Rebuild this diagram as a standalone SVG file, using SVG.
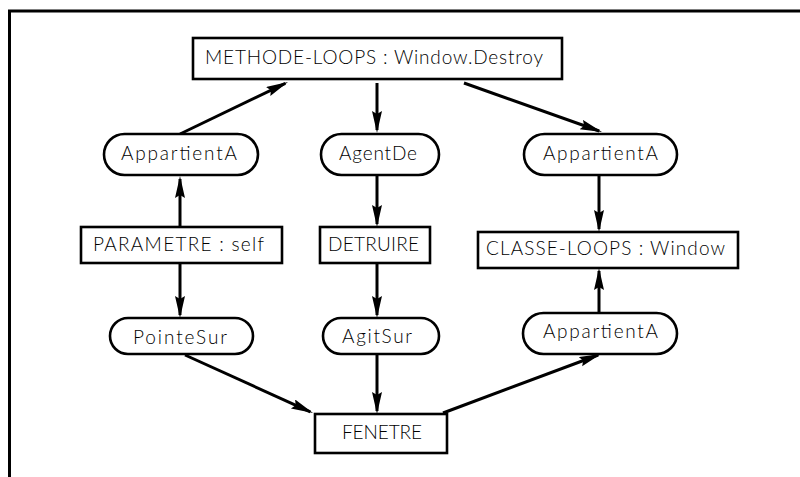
<svg xmlns="http://www.w3.org/2000/svg" width="800" height="477" viewBox="0 0 800 477">
  <style>
    .box { fill: #fff; stroke: #000; stroke-width: 2.6; }
    .lbl { font-family: Lato, "Liberation Sans", Arial, sans-serif; font-weight: 300; font-size: 19px; fill: #000; text-anchor: middle; }
    .edge { stroke: #000; stroke-width: 3; fill: none; marker-end: url(#head); }
    .frame { stroke: #000; stroke-width: 3; fill: none; }
  </style>
  <defs>
    <marker id="head" markerUnits="userSpaceOnUse" markerWidth="24" markerHeight="12" refX="19" refY="5" orient="auto">
      <path d="M0,0 L22,5 L0,10 L3,5 z" fill="#000"/>
    </marker>
  </defs>
  <rect width="800" height="477" fill="#fff"/>
  <path class="frame" d="M9.5,477 V11 H800"/>

  <g id="connectors">
    <line class="edge" x1="180" y1="227" x2="180" y2="179"/>
    <line class="edge" x1="180" y1="263" x2="180" y2="315"/>
    <line class="edge" x1="180" y1="134" x2="285.3" y2="83.3"/>
    <line class="edge" x1="377" y1="83" x2="377" y2="130"/>
    <line class="edge" x1="377" y1="175" x2="377" y2="224"/>
    <line class="edge" x1="377" y1="263" x2="377" y2="315"/>
    <line class="edge" x1="377" y1="354" x2="377" y2="411"/>
    <line class="edge" x1="185" y1="355" x2="310.3" y2="411.8"/>
    <line class="edge" x1="464" y1="83" x2="599.2" y2="131"/>
    <line class="edge" x1="599" y1="175" x2="599" y2="229"/>
    <line class="edge" x1="443" y1="413" x2="598.2" y2="355"/>
    <line class="edge" x1="599" y1="313" x2="599" y2="271"/>
  </g>

  <g id="methode">
    <rect class="box" x="193" y="38" width="369" height="41"/>
    <text class="lbl" x="374" y="64" textLength="338" lengthAdjust="spacing">METHODE-LOOPS : Window.Destroy</text>
  </g>
  <g id="appartient-1">
    <rect class="box" x="104" y="134" width="154" height="41" rx="20.5"/>
    <text class="lbl" x="179" y="160" textLength="116" lengthAdjust="spacing">AppartientA</text>
  </g>
  <g id="agentde">
    <rect class="box" x="321" y="134" width="118" height="41" rx="20.5"/>
    <text class="lbl" x="378" y="160" textLength="78" lengthAdjust="spacing">AgentDe</text>
  </g>
  <g id="appartient-2">
    <rect class="box" x="524" y="134" width="153" height="41" rx="20.5"/>
    <text class="lbl" x="600.5" y="160" textLength="115" lengthAdjust="spacing">AppartientA</text>
  </g>
  <g id="parametre">
    <rect class="box" x="81" y="227" width="201" height="36"/>
    <text class="lbl" x="178.5" y="251" textLength="171" lengthAdjust="spacing">PARAMETRE : self</text>
  </g>
  <g id="detruire">
    <rect class="box" x="320" y="227" width="110" height="36"/>
    <text class="lbl" x="373.5" y="251" textLength="91" lengthAdjust="spacing">DETRUIRE</text>
  </g>
  <g id="classe">
    <rect class="box" x="478" y="232" width="260" height="36"/>
    <text class="lbl" x="605.5" y="255" textLength="239" lengthAdjust="spacing">CLASSE-LOOPS : Window</text>
  </g>
  <g id="pointesur">
    <rect class="box" x="110" y="318" width="143" height="36" rx="18"/>
    <text class="lbl" x="180" y="344" textLength="94" lengthAdjust="spacing">PointeSur</text>
  </g>
  <g id="agitsur">
    <rect class="box" x="323" y="318" width="116" height="36" rx="18"/>
    <text class="lbl" x="377" y="343" textLength="70" lengthAdjust="spacing">AgitSur</text>
  </g>
  <g id="appartient-3">
    <rect class="box" x="523" y="313" width="154" height="41" rx="20.5"/>
    <text class="lbl" x="600.5" y="338" textLength="115" lengthAdjust="spacing">AppartientA</text>
  </g>
  <g id="fenetre">
    <rect class="box" x="315" y="414" width="132" height="39"/>
    <text class="lbl" x="382" y="439" textLength="80" lengthAdjust="spacing">FENETRE</text>
  </g>
</svg>
